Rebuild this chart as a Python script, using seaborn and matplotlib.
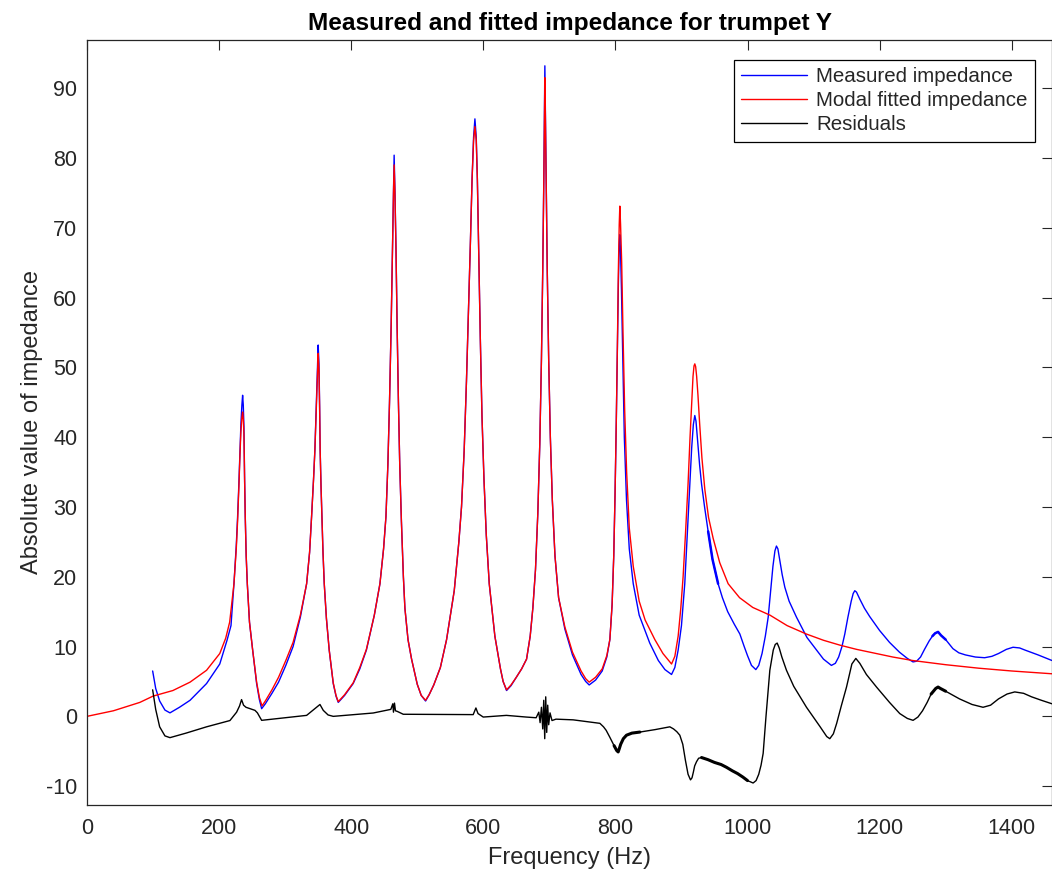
import matplotlib
matplotlib.use("Agg")
import matplotlib.pyplot as plt
import seaborn as sns

# ---------------- data ----------------
freq_meas = [99.4, 104, 110, 118, 125.6, 140, 156, 181, 201, 212, 218, 222.5, 226, 228, 230, 231.6,
             233, 234.5, 235.6, 236.6, 237.6, 238.6, 239.6, 241, 242.7, 246, 250.8, 256.8, 261, 264.4,
             270, 280, 290, 301, 312, 323, 332.5, 337, 340, 343, 345, 347, 348.7, 350, 351.2, 352.2,
             353, 354.3, 355.7, 357.3, 359.2, 362.5, 366.7, 372.8, 377, 380.4, 390, 403, 413, 423,
             435, 443.5, 449, 452.6, 455.5, 458, 460.5, 462.5, 464, 465, 466.2, 467.8, 469.5, 471.5,
             473.5, 476, 479, 481.3, 486, 491.4, 500, 506, 512.6, 518, 525, 535, 544.4, 556, 563, 567,
             571, 574.5, 577.5, 580.5, 583, 585.3, 587.3, 589.3, 591, 593, 595.5, 598, 601, 604.5, 609,
             617.5, 626, 630, 635.2, 642, 650, 658, 665.5, 671, 675, 679, 682.5, 685.5, 688, 690, 691.6,
             692.6, 693.2, 694, 695.2, 696.8, 699, 701.5, 704.5, 708.5, 714, 723.5, 735, 748, 755, 760.3,
             770, 780, 787, 791.6, 795, 797.5, 799.5, 801.3, 803, 804.5, 805.8, 806.7, 807.8, 809.2,
             811, 813.5, 816.8, 821, 827, 836, 852, 865, 875, 885, 890, 895, 900, 905, 909, 912.7,
             915.5, 918, 920.2, 922, 924.5, 927.5, 930.4, 935, 940.4, 947, 955.5, 962, 970, 980, 988.4,
             995, 1000, 1006, 1012.6, 1017, 1022, 1027, 1031.3, 1035, 1038.5, 1041.5, 1043.8, 1046,
             1049, 1052.5, 1056.5, 1063, 1074.2, 1090, 1104.4, 1115, 1127, 1133, 1138, 1143, 1147.3,
             1152, 1157, 1160, 1162.4, 1165, 1170, 1177, 1185, 1200, 1215, 1230, 1242, 1250.6, 1256,
             1262, 1268, 1275, 1280, 1284, 1288.5, 1293, 1300, 1311, 1320, 1330, 1345, 1359, 1370,
             1380, 1392, 1402, 1412, 1420, 1440, 1461]
z_meas = [6.5, 4.0, 2.2, 0.9, 0.5, 1.3, 2.3, 4.7, 7.5, 10.9, 13.0, 19.0, 24.5, 28.6, 33.5, 38.1,
          41.8, 44.6, 46.0, 44.6, 41.5, 34.0, 28.6, 23.0, 19.0, 13.5, 9.5, 4.7, 2.4, 1.1,
          1.8, 3.3, 4.9, 7.3, 10.0, 14.2, 19.0, 23.5, 28.6, 34.0, 38.1, 44.0, 49.5, 53.2, 50.5, 44.5,
          38.1, 33.0, 28.6, 23.5, 19.0, 14.0, 9.5, 4.7, 2.9, 2.0, 3.0, 4.7, 6.8, 9.5,
          14.5, 19.0, 24.0, 28.6, 36.0, 45.0, 56.0, 67.0, 75.5, 80.4, 75.5, 67.0, 56.0, 45.0,
          36.0, 28.0, 20.0, 15.5, 11.0, 8.2, 4.6, 3.0, 2.2, 3.1, 4.5, 7.0, 11.0, 18.0, 25.0, 30.0,
          38.0, 48.0, 58.0, 68.0, 77.0, 83.0, 85.6, 83.0, 77.0, 67.0, 54.0, 43.0, 34.0, 26.0, 19.0,
          11.5, 6.8, 5.0, 3.7, 4.4, 5.6, 6.8, 8.2, 11.5, 15.5, 21.0, 29.0, 39.0, 51.0, 64.0, 77.0,
          87.0, 93.2, 87.0, 77.0, 64.0, 51.0, 40.0, 31.0, 23.0, 17.0, 12.5, 8.8, 6.0, 5.0, 4.5,
          5.2, 6.5, 8.5, 11.0, 16.0, 23.0, 32.0, 42.0, 53.0, 62.0, 67.5, 69.0, 66.5, 61.0,
          52.0, 40.0, 31.0, 24.0, 19.0, 14.5, 10.5, 8.0, 6.7, 6.0, 7.0, 9.5, 13.0, 19.0, 26.5, 33.3,
          38.5, 41.8, 43.1, 42.3, 39.5, 36.0, 33.3, 30.0, 26.5, 22.5, 19.0, 17.0, 15.0, 13.2, 11.8,
          10.0, 8.7, 7.3, 6.7, 7.3, 9.0, 11.5, 14.2, 18.0, 21.5, 23.7, 24.4, 24.0,
          22.3, 20.3, 18.5, 16.5, 14.2, 11.3, 9.5, 8.2, 7.3, 7.6, 8.5, 10.0, 11.8,
          14.2, 16.5, 17.6, 18.0, 17.8, 16.8, 15.5, 14.3, 12.3, 10.6, 9.2, 8.3, 7.8, 7.9,
          8.5, 9.6, 10.8, 11.5, 11.9, 12.1, 11.6, 11.0, 9.7, 9.1, 8.8, 8.5, 8.4, 8.6,
          9.0, 9.6, 9.9, 9.8, 9.5, 8.8, 8.0]

freq_fit = [0, 40, 80, 100, 130, 156, 181, 201, 210, 216, 219, 222.5, 226, 228, 230, 231.6, 233,
            234.5, 235.6, 236.6, 237.6, 238.6, 239.6, 241, 242.7, 246, 250.8, 256.8, 261, 265, 270,
            280, 290, 301, 312, 323, 332.5, 337, 340, 343, 345, 347, 348.7, 350, 351.2, 352.2, 353,
            354.3, 355.7, 357.3, 359.2, 362.5, 366.7, 372.8, 377, 380.4, 390, 403, 413, 423, 435,
            443.5, 449, 452.6, 455.5, 458, 460.5, 462.5, 464, 465, 466.2, 467.8, 469.5, 471.5, 473.5,
            476, 479, 481.3, 486, 491.4, 500, 506, 512.6, 518, 525, 535, 544.4, 556, 563, 567, 571,
            574.5, 577.5, 580.5, 583, 585.3, 587.3, 589.3, 591, 593, 595.5, 598, 601, 604.5, 609,
            617.5, 626, 630, 635.2, 642, 650, 658, 665.5, 671, 675, 679, 682.5, 685.5, 688, 690,
            691.6, 692.6, 693.2, 694, 695.2, 696.8, 699, 701.5, 704.5, 708.5, 714, 723.5, 735, 748,
            755, 760.3, 770, 780, 787, 791.6, 795, 797.5, 799.5, 801.3, 803, 804.5, 805.8, 806.7,
            807.8, 809.5, 811.5, 814, 817, 821, 827, 836, 845, 859.7, 872, 885, 890, 895, 899, 902.5,
            906, 910, 913, 915.5, 917.5, 919, 920.2, 921.5, 923, 925, 927.5, 931, 935.4, 941, 948,
            958, 970.7, 988, 1008, 1034, 1060, 1089, 1115, 1140, 1165, 1190, 1220, 1250, 1275, 1300,
            1325, 1350, 1375, 1400, 1430, 1461]
z_fit = [0.0, 0.8, 2.0, 2.9, 3.7, 4.9, 6.6, 9.0, 11.2, 13.5, 16.0, 19.0, 24.0, 28.0, 33.0, 37.5,
         40.8, 42.8, 43.6, 42.6, 40.5, 34.0, 28.6, 23.0, 19.0, 13.5, 9.5, 4.9, 2.7, 1.5, 2.2,
         3.8, 5.6, 8.0, 10.6, 14.5, 19.0, 23.5, 28.6, 34.0, 38.1, 43.5, 48.5, 52.0, 49.5, 44.0,
         38.1, 33.0, 28.6, 23.5, 19.0, 14.0, 9.5, 4.8, 3.0, 2.1, 3.1, 4.8, 7.0, 9.6, 14.5,
         19.0, 24.0, 28.6, 36.0, 45.0, 56.0, 67.0, 75.0, 79.0, 75.0, 67.0, 56.0, 45.0, 36.0,
         28.0, 20.0, 15.5, 11.0, 8.2, 4.6, 3.0, 2.3, 3.1, 4.5, 7.0, 11.0, 18.0, 25.0, 30.0, 38.0,
         48.0, 58.0, 68.0, 77.0, 82.5, 84.5, 82.5, 77.0, 67.0, 54.0, 43.0, 34.0, 26.0, 19.0,
         11.5, 6.8, 5.0, 3.8, 4.5, 5.6, 6.8, 8.2, 11.5, 15.5, 21.0, 29.0, 39.0, 51.0, 64.0,
         76.5, 86.0, 91.5, 86.0, 76.5, 64.0, 51.0, 40.0, 31.0, 23.0, 17.0, 12.8, 9.2, 6.5,
         5.4, 4.9, 5.6, 6.8, 8.7, 11.0, 16.0, 23.0, 32.0, 42.0, 53.0, 64.0, 70.5, 73.1,
         70.5, 65.0, 55.0, 44.0, 35.0, 27.0, 21.5, 16.5, 13.8, 11.0, 9.0, 7.5, 8.6, 11.5, 15.5, 20.0,
         26.0, 33.3, 40.0, 45.0, 48.7, 50.2, 50.5, 50.1, 48.7, 46.0, 42.0, 37.0, 32.5, 28.5, 25.5,
         22.0, 19.0, 17.0, 15.6, 14.5, 13.0, 11.8, 10.9, 10.2, 9.6, 9.1, 8.5, 8.0, 7.7, 7.4,
         7.15, 6.9, 6.7, 6.5, 6.3, 6.1]

freq_res = [99.4, 104, 110, 118, 125.6, 150, 181, 216.4, 226.5, 231, 234, 237, 240.7, 254.3, 258,
            264.4, 300, 332.5, 345, 349, 352.7, 357.7, 365, 372.8, 433.3, 455, 460, 463, 464, 465.5,
            467, 470, 478.8, 584.7, 588.8, 592, 599.9, 635, 665, 680, 684, 686, 688, 690, 691.5, 693,
            694.5, 696, 697.5, 699, 701, 704, 710, 736, 776.5, 782, 786, 791.6, 798, 802, 804.2, 806,
            808, 812, 816.8, 825, 837, 860, 882.4, 888, 893, 897.5, 902, 906, 910, 913.7, 916, 918,
            920, 922.8, 926, 930.4, 940, 950, 960, 968.2, 977, 985, 993, 1000, 1008.5, 1013, 1017,
            1020.5, 1023.7, 1028, 1033.8, 1039, 1042, 1044.9, 1048, 1052, 1059, 1070, 1089.3, 1110,
            1120, 1124.6, 1130, 1135, 1142, 1149.9, 1158, 1164, 1170, 1180, 1195.3, 1215, 1230.5,
            1242, 1250.7, 1258, 1265, 1272, 1278, 1285, 1288.5, 1292, 1300, 1321, 1340, 1356.6,
            1368, 1380, 1393, 1404.6, 1418, 1430, 1445, 1461]
z_res = [3.8, 1.0, -1.5, -2.8, -3.05, -2.4, -1.5, -0.6, 0.6, 1.5, 2.4, 1.6, 1.3, 0.86, 0.5,
         -0.57, -0.2, 0.14, 1.1, 1.4, 1.7, 0.86, 0.2, 0.0, 0.48, 0.9, 1.0, 1.8, 0.6, 1.9,
         0.8, 0.7, 0.3, 0.25, 1.2, 0.4, -0.1, 0.14, -0.1, -0.2, 0.6, -0.9, 1.3, -1.8, 2.3, -3.2,
         2.8, -2.3, 1.6, -1.2, 0.5, -0.6, -0.4, -0.5, -1.0, -1.5, -2.0, -3.0, -4.2, -4.9, -5.1, -4.6,
         -4.0, -3.2, -2.7, -2.4, -2.25, -1.9, -1.5, -1.8, -2.2, -2.7, -4.0, -6.3, -8.3, -9.1, -8.8, -8.0,
         -7.1, -6.5, -6.0, -5.9, -6.2, -6.6, -6.9, -7.3, -7.8, -8.2, -8.7, -9.2, -9.55, -9.2, -8.3,
         -7.0, -5.3, 0.0, 6.6, 9.5, 10.3, 10.5, 9.8, 8.5, 6.6, 4.3, 1.3, -1.5,
         -2.9, -3.2, -2.5, -1.0, 1.5, 4.2, 7.5, 8.3, 7.6, 6.0, 4.2, 2.0, 0.4,
         -0.3, -0.57, -0.1, 0.8, 2.0, 3.2, 4.0, 4.2, 4.0, 3.6, 2.5, 1.7, 1.3,
         1.6, 2.5, 3.2, 3.5, 3.3, 2.8, 2.3, 1.8]

# frequency ranges where the traces look like a thick noisy band
noisy_res = [(797, 840), (930, 1005), (1278, 1302)]
noisy_meas = [(938, 958), (1280, 1300)]

x_ticks = [0, 200, 400, 600, 800, 1000, 1200, 1400]
y_ticks = [-10, 0, 10, 20, 30, 40, 50, 60, 70, 80, 90]
series_labels = ["Measured impedance", "Modal fitted impedance", "Residuals"]

# ---------------- figure ----------------
sns.set_theme(style="white")
plt.rcParams['font.family'] = ['Liberation Sans', 'DejaVu Sans']
plt.rcParams['axes.unicode_minus'] = False

fig = plt.figure(figsize=(10.52, 8.74), dpi=100)
ax = fig.add_axes([87 / 1052, 69 / 874, 965 / 1052, 765 / 874])

sns.lineplot(x=freq_meas, y=z_meas, ax=ax, color="#0000ff", linewidth=1.0,
             label=series_labels[0], sort=False, estimator=None)
sns.lineplot(x=freq_fit, y=z_fit, ax=ax, color="#ff0000", linewidth=1.0,
             label=series_labels[1], sort=False, estimator=None)
sns.lineplot(x=freq_res, y=z_res, ax=ax, color="#000000", linewidth=1.0,
             label=series_labels[2], sort=False, estimator=None)


def band(fr, zz, ranges, color, lw):
    for lo, hi in ranges:
        xs = [f for f in fr if lo <= f <= hi]
        ys = [z for f, z in zip(fr, zz) if lo <= f <= hi]
        sns.lineplot(x=xs, y=ys, ax=ax, color=color, linewidth=lw, sort=False,
                     estimator=None, legend=False)


band(freq_res, z_res, noisy_res, "#000000", 2.2)
band(freq_meas, z_meas, noisy_meas, "#0000ff", 1.8)

ax.set_xlim(0, 1461)
ax.set_ylim(-12.7, 96.9)
ax.set_xticks(x_ticks)
ax.set_yticks(y_ticks)

dark = "#262626"
for sp in ax.spines.values():
    sp.set_color(dark)
    sp.set_linewidth(0.9)
    sp.set_visible(True)
ax.tick_params(direction="in", top=True, right=True, length=7, width=0.8,
               colors=dark, labelsize=15.5)
ax.tick_params(axis="x", pad=9)
ax.tick_params(axis="y", pad=7)

ax.set_xlabel("Frequency (Hz)", fontsize=17, color=dark, labelpad=6)
ax.set_ylabel("Absolute value of impedance", fontsize=17, color=dark, labelpad=2.5)
ax.set_title("Measured and fitted impedance for trumpet Y", fontsize=17.6,
             fontweight="bold", color="black", pad=7)

leg = ax.legend(loc="upper right", bbox_to_anchor=(0.982, 0.974), frameon=True,
                fancybox=False, edgecolor="black", framealpha=1, fontsize=14.8,
                handlelength=3.2, handletextpad=0.45, borderpad=0.35,
                labelspacing=0.25, borderaxespad=0)
leg.get_frame().set_linewidth(0.9)

fig.savefig("out.png", dpi=100)
